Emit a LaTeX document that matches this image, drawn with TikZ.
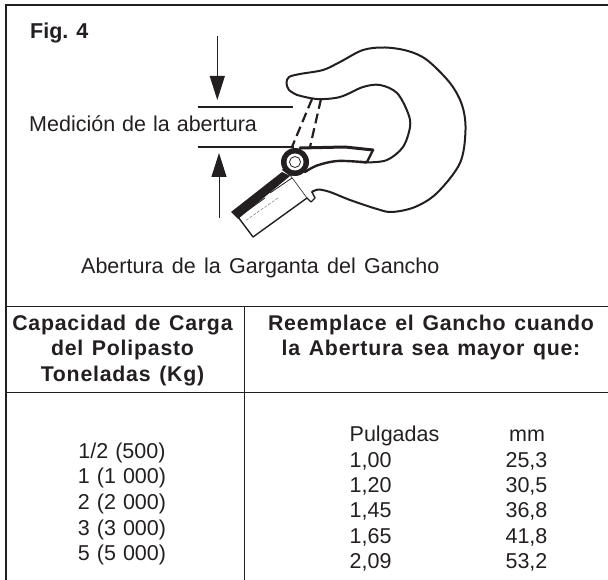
\documentclass[tikz,border=0pt]{standalone}
\usepackage{fontspec}
\setmainfont{Liberation Sans}
\newfontfamily\headfont[LetterSpace=3.6,WordSpace=1.3]{Liberation Sans Bold}
\usetikzlibrary{arrows.meta}
\tikzset{
  txt/.style={font=\fontsize{21.5}{25}\selectfont,text=inkc,inner sep=0pt,anchor=base},
  txtl/.style={txt,anchor=base west},
  hdr/.style={font=\fontsize{21.3}{25}\selectfont\headfont,text=inkc,inner sep=0pt,anchor=base},
  rule/.style={draw=inkc,line width=1pt},
  hookline/.style={draw=inkc,line width=2pt,line join=round,line cap=round},
  dashline/.style={draw=inkc,line width=2.2pt,dash pattern=on 10pt off 5pt},
  dimline/.style={draw=inkc,line width=2pt},
  dimarrow/.style={draw=inkc,line width=1pt,-{Triangle[length=24pt,width=15pt]}},
}
\definecolor{inkc}{HTML}{231F20}
\begin{document}
\begin{tikzpicture}[x=1pt,y=-1pt]
\useasboundingbox (0,0) rectangle (608,580);
% frame and table rules
\coordinate (tl) at (6,5); \coordinate (tr) at (608,5); \coordinate (bl) at (6,580);
\coordinate (h1l) at (6,306); \coordinate (h1r) at (608,306);
\coordinate (h2l) at (6,392); \coordinate (h2r) at (608,392);
\coordinate (vt) at (244,306); \coordinate (vb) at (244,580);
\draw[rule,line width=1.4pt] (bl) -- (tl) -- (tr);
\draw[rule] (h1l) -- (h1r);
\draw[rule] (h2l) -- (h2r);
\draw[rule] (vt) -- (vb);
% hook outer
\draw[hookline] plot[smooth,tension=0.55] coordinates {(297,95) (289,90) (286.5,83) (289,77) (300,74) (323,70) (340,62) (363,50) (385,47.5) (408,51) (427,60) (450,83) (462,105) (465.5,130) (460,163) (437,193) (415,207) (392,212) (377,209) (350,200) (330,192) (318,189.5) (312,192)};
% hook inner
\draw[hookline] plot[smooth,tension=0.55] coordinates {(297,95) (317,99) (340,97) (363,87) (380,85) (397,93) (408,113) (410,127) (403,147) (387,160) (367,162.5) (362,162)};
% latch
\draw[hookline,line width=3pt] (300,148) -- (345,147) -- (373,150);
\draw[hookline,line width=2.4pt] (373,150) -- (367,162) -- (360,162);
\draw[hookline,line width=2.4pt] plot[smooth,tension=0.55] coordinates {(362,162) (337,161) (317,165.5) (305,172)};
% dashed throat
\draw[dashline] (312,99) -- (292,147);
\draw[dashline] (321,99) -- (310,147);
% shank
\draw[hookline,line width=1.4pt] (238,217) -- (253,237) -- (307,198) -- (311,202) -- (315,198) -- (312,192);
\draw[hookline,line width=.6pt] (290,175) -- (307,198);
\fill[inkc] (231,212) -- (282,172) -- (290,176) -- (238,219) -- cycle;
\draw[draw=inkc,line width=.8pt] (292,178) -- (270,193);
\draw[draw=inkc,line width=.8pt] (265,198) -- (240,216);
\draw[draw=inkc!60,line width=.5pt,dash pattern=on 3pt off 1.5pt] (278,198) -- (245,221);
% pin
\fill[inkc] (295,162) circle[radius=14];
\fill[inkc] (305,172) -- (290,176) -- (282,170) -- (298,150) -- cycle;
\fill[white] (295,162) circle[radius=8.5];
\draw[draw=inkc,line width=.8pt] (295,162) circle[radius=5.5];
% dimension lines
\coordinate (d1a) at (198,106.7); \coordinate (d1b) at (292.5,106.7);
\coordinate (d2a) at (198,146.7); \coordinate (d2b) at (294,146.7);
\draw[dimline] (d1a) -- (d1b);
\draw[dimline] (d2a) -- (d2b);
\coordinate (a1s) at (217.3,36); \coordinate (a1e) at (217.3,100);
\coordinate (a2s) at (219,218); \coordinate (a2e) at (219,153);
\draw[dimarrow] (a1s) -- (a1e);
\draw[dimarrow] (a2s) -- (a2e);
% labels
\node[font=\fontsize{21.5}{25}\selectfont\bfseries,text=inkc,inner sep=0pt,anchor=base west] (fig) at (30,39) {Fig. 4};
\node[txtl] (med) at (29,132) {\spaceskip=7pt\relax Medición de la abertura};
\node[txtl] (cap) at (81,274) {\spaceskip=8.3pt\relax Abertura de la Garganta del Gancho};
% table header
\node[hdr] (h11) at (122.5,330) {Capacidad de Carga};
\node[hdr] (h12) at (122.5,355.5) {del Polipasto};
\node[hdr] (h13) at (122.5,381) {Toneladas (Kg)};
\node[hdr] (h21) at (431,330) {Reemplace el Gancho cuando};
\node[hdr] (h22) at (431,355.5) {la Abertura sea mayor que:};
% capacities
\node[txt] (c1) at (122,458) {\spaceskip=7pt\relax 1/2 (500)};
\node[txt] (c2) at (122,483.5) {\spaceskip=7pt\relax 1 (1 000)};
\node[txt] (c3) at (122,509) {\spaceskip=7pt\relax 2 (2 000)};
\node[txt] (c4) at (122,535) {\spaceskip=7pt\relax 3 (3 000)};
\node[txt] (c5) at (122,560.5) {\spaceskip=7pt\relax 5 (5 000)};
% values
\node[txtl] (p0) at (349.5,441) {Pulgadas};
\node[txtl] (p1) at (349.5,467) {1,00};
\node[txtl] (p2) at (349.5,492) {1,20};
\node[txtl] (p3) at (349.5,517.5) {1,45};
\node[txtl] (p4) at (349.5,543) {1,65};
\node[txtl] (p5) at (349.5,568.5) {2,09};
\node[txt] (m0) at (527,441) {mm};
\node[txt] (m1) at (526.5,467) {25,3};
\node[txt] (m2) at (526.5,492) {30,5};
\node[txt] (m3) at (526.5,517.5) {36,8};
\node[txt] (m4) at (526.5,543) {41,8};
\node[txt] (m5) at (526.5,568.5) {53,2};
\end{tikzpicture}
\end{document}
